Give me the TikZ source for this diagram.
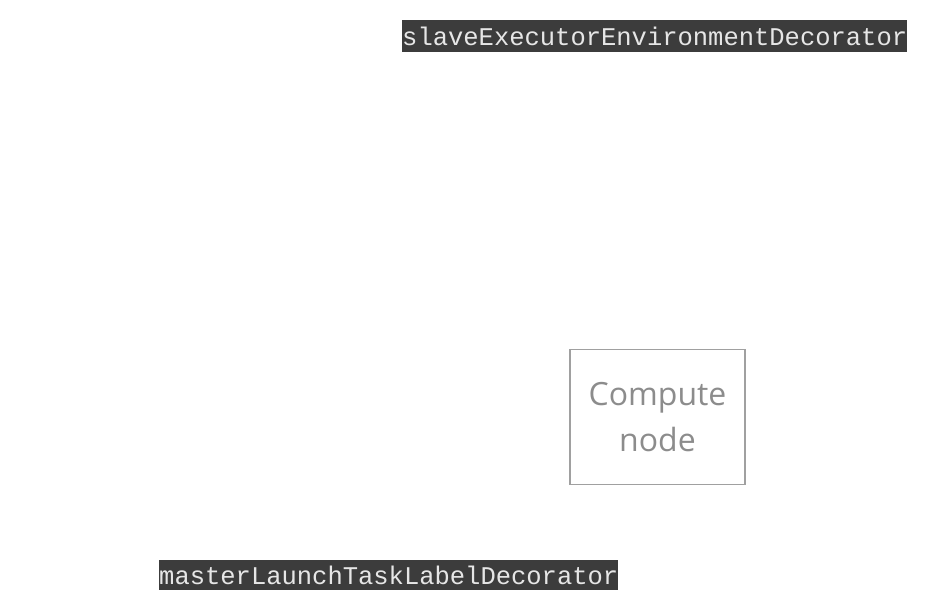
\documentclass[tikz,border=0pt]{standalone}
\usepackage{fontspec}
\setmainfont{Open Sans}
\newfontfamily\codefont{Liberation Mono}
\definecolor{codebg}{HTML}{3C3C3C}
\definecolor{codefg}{HTML}{E6E6E6}
\definecolor{boxline}{HTML}{A0A0A0}
\definecolor{boxtext}{HTML}{8C8C8C}
\begin{document}
\begin{tikzpicture}[x=1pt,y=-1pt,
  codelabel/.style={fill=codebg,text=codefg,inner sep=0pt,minimum height=32pt,
    font=\codefont\fontsize{25.5}{30}\selectfont,anchor=west},
  computebox/.style={draw=boxline,line width=1.2pt,minimum width=175pt,minimum height=135pt,
    text=boxtext,align=center,font=\fontsize{32}{46}\selectfont}]
\useasboundingbox (0,0) rectangle (928,610);
\node[codelabel] (slave) at (402,36) {slaveExecutorEnvironmentDecorator};
\node[codelabel,minimum height=30pt] (master) at (159,575) {masterLaunchTaskLabelDecorator};
\node[computebox] (compute) at (657.5,417) {Compute\\node};
\end{tikzpicture}
\end{document}
